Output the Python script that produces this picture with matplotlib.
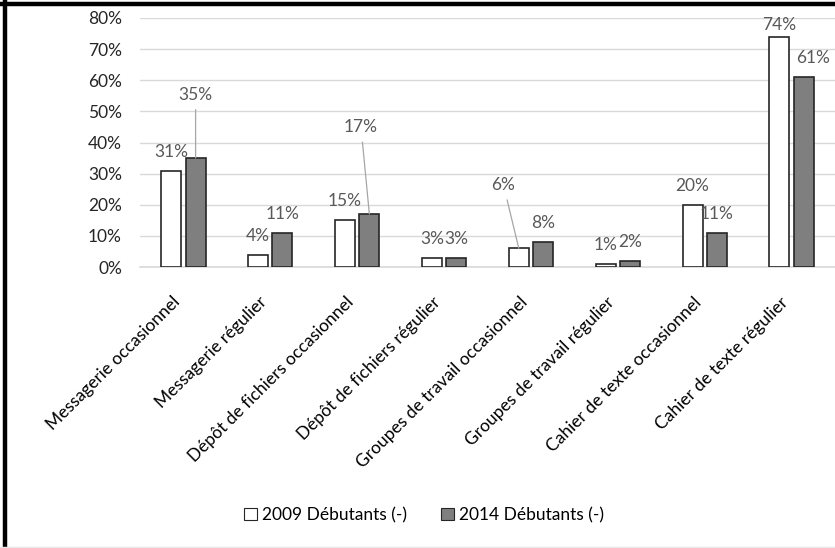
import numpy as np
import matplotlib.pyplot as plt
from matplotlib.lines import Line2D
from matplotlib.patches import Patch
from matplotlib.transforms import ScaledTranslation

plt.rcParams['font.family'] = ['Lato', 'DejaVu Sans']

categories = ["Messagerie occasionnel", "Messagerie régulier",
              "Dépôt de fichiers occasionnel", "Dépôt de fichiers régulier",
              "Groupes de travail occasionnel", "Groupes de travail régulier",
              "Cahier de texte occasionnel", "Cahier de texte régulier"]
debutants_2009 = [0.31, 0.04, 0.15, 0.03, 0.06, 0.01, 0.20, 0.74]
debutants_2014 = [0.35, 0.11, 0.17, 0.03, 0.08, 0.02, 0.11, 0.61]
series_names = ["2009 Débutants (-)", "2014 Débutants (-)"]

# label offsets (points) for the labels that were moved by hand
offsets_2009 = {4: (-11, 42, True), 7: (0, 5, False)}
offsets_2014 = {0: (0, 42, True), 2: (-6, 59, True), 7: (6.5, 10, False)}

fig = plt.figure(figsize=(8.35, 5.48), dpi=100)
ax = fig.add_axes([140 / 835, (548 - 267) / 548, 1 - 140 / 835, 249 / 548])

x = np.arange(len(categories))
w = 0.23
off = 0.14
b1 = ax.bar(x - off, debutants_2009, width=w, color='white', edgecolor='#262626', linewidth=1.2, zorder=3)
b2 = ax.bar(x + off, debutants_2014, width=w, color='#7f7f7f', edgecolor='#262626', linewidth=1.2, zorder=3)

lab_col = '#595959'
for bars, vals, offs in [(b1, debutants_2009, offsets_2009), (b2, debutants_2014, offsets_2014)]:
    for i, (bar, v) in enumerate(zip(bars, vals)):
        dx, dy, leader = offs.get(i, (0, 10, False))
        xc = bar.get_x() + bar.get_width() / 2
        kw = {}
        if leader:
            kw['arrowprops'] = dict(arrowstyle='-', color='#a6a6a6', lw=0.9, shrinkA=3, shrinkB=0)
        ax.annotate("{:.0f}%".format(v * 100), xy=(xc, v), xytext=(dx, dy),
                    textcoords='offset points', ha='center', va='baseline',
                    fontsize=12.5, color=lab_col, zorder=4, **kw)

ax.set_xlim(-0.5, len(categories) - 0.5)
ax.set_ylim(0, 0.8)
ax.set_yticks(np.arange(0, 0.81, 0.1))
ax.set_yticklabels(["{:.0f}%".format(t * 100) for t in np.arange(0, 0.81, 0.1)])
ax.set_xticks(x)
ax.tick_params(axis='y', length=0, pad=13, labelsize=12.5, labelcolor='#262626')
ax.tick_params(axis='x', length=0, pad=23.5, labelsize=12.5, labelcolor='#000000')
ax.set_xticklabels(categories, rotation=45, ha='right', va='center', rotation_mode='anchor')
shift = ScaledTranslation(-6 / 100, 0, fig.dpi_scale_trans)
for lbl in ax.get_xticklabels():
    lbl.set_transform(lbl.get_transform() + shift)
ax.grid(axis='y', color='#d9d9d9', linewidth=1, zorder=0)
for s in ['top', 'right', 'left']:
    ax.spines[s].set_visible(False)
ax.spines['bottom'].set_color('#d9d9d9')
ax.spines['bottom'].set_linewidth(1.2)

handles = [Patch(facecolor='white', edgecolor='#262626', linewidth=0.8),
           Patch(facecolor='#7f7f7f', edgecolor='#262626', linewidth=0.8)]
fig.legend(handles, series_names, loc='center', bbox_to_anchor=(424 / 835, 1 - 515 / 548),
           ncol=2, frameon=False, fontsize=12.5, handlelength=0.75, handleheight=0.75,
           handletextpad=0.25, columnspacing=2.0)

# black frame on left and top, faint line at the bottom
fig.add_artist(Line2D([5 / 835, 5 / 835], [0, 1], color='black', linewidth=3.2, transform=fig.transFigure))
fig.add_artist(Line2D([0, 1], [1 - 3.5 / 548, 1 - 3.5 / 548], color='black', linewidth=3.2, transform=fig.transFigure))
fig.add_artist(Line2D([0, 1], [1.5 / 548, 1.5 / 548], color='#e8e8e8', linewidth=1, transform=fig.transFigure))

fig.savefig("out.png", dpi=100)
